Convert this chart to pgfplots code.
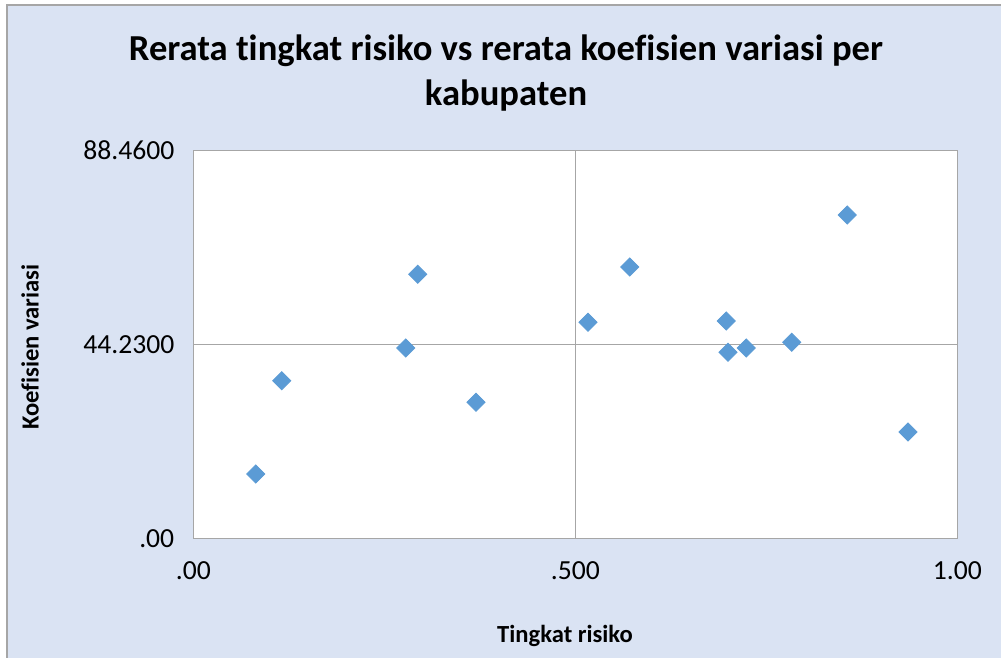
\documentclass[border=0pt]{standalone}
\usepackage{pgfplots}
\pgfplotsset{compat=1.18}
\usepackage{fontspec}
\setmainfont[Ligatures=NoCommon]{Carlito}
\definecolor{bg}{HTML}{DAE3F3}
\definecolor{mk}{HTML}{5B9BD5}
\definecolor{ax}{HTML}{A6A6A6}
\begin{document}
\begin{tikzpicture}
\useasboundingbox (0,0) rectangle (500.5pt,329pt);
\fill[white] (0,0) rectangle (500.5pt,329pt);
\fill[bg] (3.5pt,0) rectangle (500.5pt,326.5pt);
\draw[ax,line width=0.6pt] (3.5pt,0) -- (3.5pt,326.5pt) -- (500.5pt,326.5pt);
\node[font=\fontsize{18.3}{22}\selectfont\bfseries,anchor=base] at (253pt,298.5pt) {Rerata tingkat risiko vs rerata koefisien variasi per};
\node[font=\fontsize{18.3}{22}\selectfont\bfseries,anchor=base] at (253pt,276pt) {kabupaten};
\node[font=\fontsize{12.3}{14}\selectfont\bfseries,rotate=90] at (15pt,155.5pt) {Koefisien variasi};
\node[font=\fontsize{12.3}{14}\selectfont\bfseries] at (282.5pt,11pt) {Tingkat risiko};
\begin{axis}[
  at={(96.65pt,59.65pt)}, anchor=south west,
  scale only axis, width=382pt, height=194pt,
  xmin=0, xmax=1, ymin=0, ymax=88.46,
  xtick={0,0.5,1}, xticklabels={.00,.500,1.00},
  ytick={0,44.23,88.46}, yticklabels={.00,44.2300,88.4600},
  major tick length=0pt,
  axis line style={ax, line width=0.6pt},
  xmajorgrids, ymajorgrids,
  grid style={ax, line width=0.6pt},
  axis background/.style={fill=white},
  tick label style={font=\fontsize{13.8}{15}\selectfont},
  xticklabel style={yshift=-8pt},
  yticklabel style={xshift=-6pt},
]
\addplot[only marks, mark=square*, mark size=3.2pt, mark options={rotate=45, fill=mk, draw=mk}] coordinates {
(0.0817,14.75)
(0.1157,36.02)
(0.2780,43.48)
(0.2937,60.28)
(0.3700,31.10)
(0.5166,49.34)
(0.5712,61.95)
(0.6976,49.63)
(0.6999,42.50)
(0.7238,43.48)
(0.7832,44.78)
(0.8560,73.80)
(0.9355,24.33)
};
\end{axis}
\end{tikzpicture}
\end{document}
